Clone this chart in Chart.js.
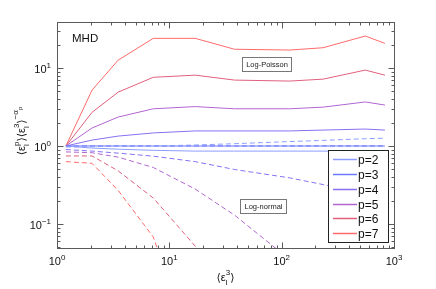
<!DOCTYPE html>
<html>
<head>
<meta charset="UTF-8">
<title>MHD moments</title>
<script src="https://cdn.jsdelivr.net/npm/chart.js"></script>
<style>
  html, body { margin: 0; padding: 0; background: #fff; }
  #wrap { width: 436px; height: 289px; }
</style>
</head>
<body>
<div id="wrap"><canvas id="chart" width="436" height="289"></canvas></div>
<script>
// x positions <eps_l^3>
const epsilon3 = [1.2, 2.05, 3.5, 7.2, 17, 38, 118, 234, 555, 830];

// solid lines (Log-Poisson)
const poissonP2 = [1.0, 0.94, 0.91, 0.88, 0.86, 0.86, 0.86, 0.86, 0.85, 0.85];
const poissonP3 = [1.0, 1.0, 1.0, 1.0, 1.0, 1.0, 1.0, 1.0, 1.0, 1.0];
const poissonP4 = [1.0, 1.19, 1.34, 1.47, 1.56, 1.56, 1.56, 1.6, 1.65, 1.6];
const poissonP5 = [1.0, 1.7, 2.35, 3.0, 3.2, 3.0, 3.0, 3.15, 3.67, 3.35];
const poissonP6 = [1.0, 2.7, 4.9, 7.6, 8.1, 7.0, 6.8, 7.2, 9.4, 8.1];
const poissonP7 = [1.0, 5.2, 12.6, 24, 24, 17.4, 17, 18.2, 25.7, 20.7];

// dashed lines (Log-normal)
const normalP2 = [0.97, 0.98, 0.99, 1.0, 1.03, 1.07, 1.14, 1.18, 1.24, 1.26];
const normalP3 = [1.0, 1.0, 1.0, 1.0, 1.0, 1.0, 1.0, 1.0, 1.0, 1.0];
const normalP4 = [0.9, 0.86, 0.81, 0.74, 0.63, 0.5, 0.39, 0.32, 0.25, 0.22];
const normalP5 = [0.84, 0.82, 0.72, 0.53, 0.28, 0.13, 0.035, 0.015, 0.006, 0.004];
const normalP6 = [0.745, 0.745, 0.48, 0.215, 0.052, 0.012, 0.002, 0.0008, 0.0003, 0.0002];
const normalP7 = [0.63, 0.6, 0.27, 0.068, 0.002, 0.0002, 0.00002, 0.000005, 0.000001, 0.0000005];

const orders = ['p=2', 'p=3', 'p=4', 'p=5', 'p=6', 'p=7'];
const xTickExps = [0, 1, 2, 3];
const yTickExps = [-1, 0, 1];

const colors = ['#8d9dff', '#6b78ff', '#8a6ff2', '#b266d2', '#e0607c', '#ff6a6a'];
const FONT = '"Liberation Sans", Arial, "DejaVu Sans", sans-serif';

const solid = [poissonP2, poissonP3, poissonP4, poissonP5, poissonP6, poissonP7];
const dashed = [normalP2, normalP3, normalP4, normalP5, normalP6, normalP7];

function pts(ys) {
  return epsilon3.map((x, i) => ({ x: x, y: ys[i] }));
}

const datasets = [];
dashed.forEach((ys, i) => {
  datasets.push({
    label: orders[i] + ' log-normal',
    data: pts(ys),
    borderColor: colors[i],
    borderWidth: 1,
    borderDash: [5, 3],
    pointRadius: 0,
    fill: false
  });
});
solid.forEach((ys, i) => {
  datasets.push({
    label: orders[i],
    data: pts(ys),
    borderColor: colors[i],
    borderWidth: 1,
    pointRadius: 0,
    fill: false
  });
});

// text with sub/superscripts; parts with stack:true start where the previous part started
function drawRich(ctx, parts, x, y, align) {
  const lay = [];
  let cx = 0, prevStart = 0;
  for (const p of parts) {
    ctx.font = p.s + 'px ' + FONT;
    const w = ctx.measureText(p.t).width;
    const sx = p.stack ? prevStart : cx;
    lay.push({ p: p, sx: sx });
    if (!p.stack) prevStart = sx;
    cx = Math.max(cx, sx + w);
  }
  const ox = align === 'center' ? x - cx / 2 : align === 'right' ? x - cx : x;
  for (const l of lay) {
    ctx.font = l.p.s + 'px ' + FONT;
    ctx.fillText(l.p.t, ox + l.sx, y + (l.p.dy || 0));
  }
}

function powLabel(e) {
  return [{ t: '10', s: 11 }, { t: e < 0 ? '\u2212' + (-e) : String(e), s: 8, dy: -5 }];
}

const decor = {
  id: 'decor',
  afterDraw(chart) {
    const ctx = chart.ctx;
    const xs = chart.scales.x, ys = chart.scales.y;
    const a = chart.chartArea;
    ctx.save();
    ctx.textBaseline = 'alphabetic';
    ctx.textAlign = 'left';

    // frame
    ctx.strokeStyle = '#5a5a5a';
    ctx.lineWidth = 1;
    const L = Math.round(a.left) + 0.5, R = Math.round(a.right) + 0.5;
    const T = Math.round(a.top) + 0.5, B = Math.round(a.bottom) + 0.5;
    ctx.strokeRect(L, T, R - L, B - T);

    // ticks on all four sides
    ctx.beginPath();
    for (let e = 0; e <= 3; e++) {
      for (let m = 1; m <= 9; m++) {
        const v = m * Math.pow(10, e);
        if (v < xs.min || v > xs.max) continue;
        const px = Math.round(xs.getPixelForValue(v)) + 0.5;
        const len = m === 1 ? 6 : 3;
        ctx.moveTo(px, B); ctx.lineTo(px, B - len);
        ctx.moveTo(px, T); ctx.lineTo(px, T + len);
      }
    }
    for (let e = -2; e <= 1; e++) {
      for (let m = 1; m <= 9; m++) {
        const v = m * Math.pow(10, e);
        if (v < ys.min || v > ys.max) continue;
        const py = Math.round(ys.getPixelForValue(v)) + 0.5;
        const len = m === 1 ? 6 : 3;
        ctx.moveTo(L, py); ctx.lineTo(L + len, py);
        ctx.moveTo(R, py); ctx.lineTo(R - len, py);
      }
    }
    ctx.stroke();

    // tick labels
    ctx.fillStyle = '#111';
    xTickExps.forEach(e => {
      const px = xs.getPixelForValue(Math.pow(10, e));
      drawRich(ctx, powLabel(e), px, 265, 'center');
    });
    yTickExps.forEach(e => {
      const py = ys.getPixelForValue(Math.pow(10, e));
      drawRich(ctx, powLabel(e), a.left - 6, Math.round(py) + 5, 'right');
    });

    // axis titles
    drawRich(ctx, [
      { t: '\u27E8\u03B5', s: 11 },
      { t: '3', s: 8, dy: -6 },
      { t: 'l', s: 8, dy: 4, stack: true },
      { t: '\u27E9', s: 11 }
    ], (a.left + a.right) / 2, 281, 'center');

    ctx.save();
    ctx.translate(25, 131);
    ctx.rotate(-Math.PI / 2);
    drawRich(ctx, [
      { t: '\u27E8\u03B5', s: 11 },
      { t: 'p', s: 8, dy: -6 },
      { t: 'l', s: 8, dy: 4, stack: true },
      { t: '\u27E9\u27E8\u03B5', s: 11 },
      { t: '3', s: 8, dy: -6 },
      { t: 'l', s: 8, dy: 4, stack: true },
      { t: '\u27E9', s: 11 },
      { t: '\u2212\u03B1', s: 8, dy: -7 },
      { t: 'p', s: 6, dy: -3 }
    ], 0, 0, 'center');
    ctx.restore();

    // annotations
    ctx.fillStyle = '#111';
    ctx.font = '11.5px ' + FONT;
    ctx.fillText('MHD', 72, 42);

    function boxLabel(text, x0, y0, w, h) {
      ctx.fillStyle = '#fff';
      ctx.fillRect(x0, y0, w, h);
      ctx.strokeStyle = '#777';
      ctx.strokeRect(x0 + 0.5, y0 + 0.5, w, h);
      ctx.fillStyle = '#222';
      ctx.font = '7.5px ' + FONT;
      ctx.textAlign = 'center';
      ctx.fillText(text, x0 + w / 2 + 0.5, y0 + h / 2 + 3);
      ctx.textAlign = 'left';
    }
    boxLabel('Log-Poisson', 242, 57, 49, 14);
    boxLabel('Log-normal', 240, 199, 46, 14);

    // legend
    const lx = 328, ly = 150, lw = 60, lh = 92;
    ctx.fillStyle = '#fff';
    ctx.fillRect(lx, ly, lw, lh);
    ctx.strokeStyle = '#222';
    ctx.strokeRect(lx + 0.5, ly + 0.5, lw, lh);
    orders.forEach((name, i) => {
      const y = 159 + i * 14.85;
      ctx.strokeStyle = colors[i];
      ctx.lineWidth = 1.5;
      ctx.beginPath();
      ctx.moveTo(333, Math.round(y) + 0.5);
      ctx.lineTo(357, Math.round(y) + 0.5);
      ctx.stroke();
      ctx.fillStyle = '#111';
      ctx.font = '12px ' + FONT;
      ctx.fillText(name, 358, Math.round(y) + 4.5);
    });
    ctx.restore();
  }
};

new Chart(document.getElementById('chart'), {
  type: 'line',
  data: { datasets: datasets },
  options: {
    responsive: false,
    animation: false,
    devicePixelRatio: 1,
    layout: { padding: { left: 57, right: 42, top: 22, bottom: 41 } },
    scales: {
      x: { type: 'logarithmic', min: 1, max: 1000, display: false },
      y: { type: 'logarithmic', min: 0.0492, max: 38.9, display: false }
    },
    plugins: {
      legend: { display: false },
      tooltip: { enabled: false }
    }
  },
  plugins: [decor]
});
</script>
</body>
</html>
